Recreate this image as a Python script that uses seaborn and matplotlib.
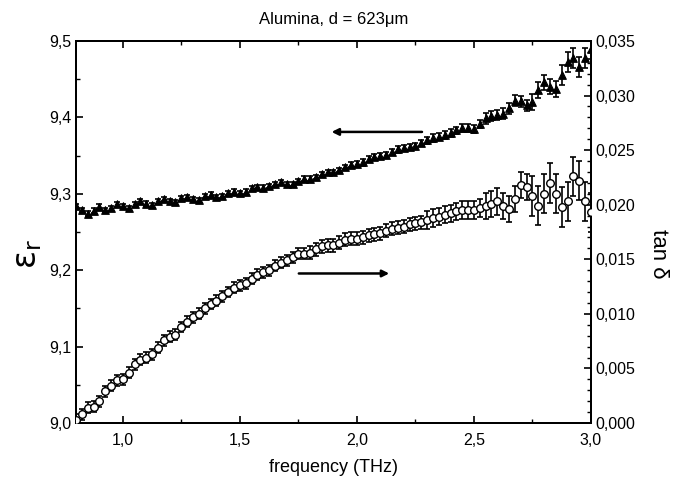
import numpy as np
import pandas as pd
import matplotlib
matplotlib.use("Agg")
import matplotlib.pyplot as plt
import seaborn as sns
from matplotlib.ticker import MultipleLocator, FuncFormatter

# frequency grid (THz), 0.025 step
freq = np.linspace(0.8, 3.0, 89)

# real part of permittivity (left axis)
eps_r = [9.284, 9.279, 9.274, 9.278, 9.283, 9.279, 9.281, 9.286, 9.284, 9.281,
         9.286, 9.290, 9.287, 9.285, 9.290, 9.293, 9.290, 9.289, 9.294, 9.296,
         9.293, 9.292, 9.297, 9.299, 9.296, 9.297, 9.301, 9.303, 9.301, 9.303,
         9.307, 9.309, 9.308, 9.310, 9.313, 9.315, 9.313, 9.313, 9.317, 9.320,
         9.320, 9.322, 9.326, 9.328, 9.328, 9.331, 9.335, 9.338, 9.339, 9.341,
         9.345, 9.348, 9.349, 9.351, 9.355, 9.358, 9.360, 9.361, 9.363, 9.366,
         9.370, 9.373, 9.375, 9.377, 9.380, 9.383, 9.386, 9.386, 9.385, 9.391,
         9.399, 9.402, 9.403, 9.405, 9.412, 9.422, 9.421, 9.416, 9.420, 9.436,
         9.446, 9.440, 9.437, 9.455, 9.472, 9.478, 9.466, 9.478, 9.490]
eps_err = [0.003] * 48 + [0.004] * 12 + [0.005] * 10 + [0.007] * 8 + [0.010] * 5 + [0.013] * 6

# loss tangent (right axis)
tan_d = [0.0003, 0.0008, 0.0014, 0.0015, 0.0020, 0.0029, 0.0034, 0.0039, 0.0040, 0.0046,
         0.0054, 0.0058, 0.0060, 0.0063, 0.0069, 0.0076, 0.0079, 0.0081, 0.0088, 0.0093,
         0.0097, 0.0100, 0.0105, 0.0109, 0.0112, 0.0116, 0.0120, 0.0124, 0.0126, 0.0128,
         0.0132, 0.0136, 0.0138, 0.0140, 0.0144, 0.0147, 0.0149, 0.0152, 0.0155, 0.0155,
         0.0156, 0.0159, 0.0162, 0.0163, 0.0163, 0.0165, 0.0168, 0.0169, 0.0169, 0.0170,
         0.0172, 0.0173, 0.0174, 0.0176, 0.0178, 0.0179, 0.0180, 0.0182, 0.0183, 0.0184,
         0.0186, 0.0188, 0.0189, 0.0191, 0.0192, 0.0194, 0.0195, 0.0195, 0.0195, 0.0197,
         0.0199, 0.0201, 0.0203, 0.0199, 0.0196, 0.0205, 0.0218, 0.0216, 0.0208, 0.0199,
         0.0210, 0.0220, 0.0210, 0.0198, 0.0203, 0.0226, 0.0222, 0.0203, 0.0193]
tan_err = [0.0005] * 40 + [0.0006] * 20 + [0.0008] * 10 + [0.0012] * 8 + [0.0018] * 11

df = pd.DataFrame({"freq": freq, "eps": eps_r, "eps_err": eps_err,
                   "tan": tan_d, "tan_err": tan_err})

sns.set_style("ticks")
plt.rcParams['font.family'] = ['Liberation Sans', 'DejaVu Sans']
plt.rcParams['text.color'] = 'black'
plt.rcParams['xtick.color'] = 'black'
plt.rcParams['ytick.color'] = 'black'
plt.rcParams['axes.labelcolor'] = 'black'

fig = plt.figure(figsize=(6.81, 4.79), dpi=100)
ax = fig.add_axes([0.1116, 0.1169, 0.7562, 0.7975])
ax2 = ax.twinx()

# permittivity: filled markers
ax.errorbar(df["freq"], df["eps"], yerr=df["eps_err"], fmt="none",
            ecolor="black", elinewidth=1.2, capsize=2.2, capthick=1.2)
sns.scatterplot(data=df, x="freq", y="eps", ax=ax, marker="^", s=30,
                color="black", edgecolor="black", linewidth=0.8, zorder=3)

# loss tangent: open markers
ax2.errorbar(df["freq"], df["tan"], yerr=df["tan_err"], fmt="none",
             ecolor="black", elinewidth=1.2, capsize=2.2, capthick=1.2)
sns.scatterplot(data=df, x="freq", y="tan", ax=ax2, marker="o", s=30,
                facecolor="white", edgecolor="black", linewidth=1.0, zorder=3)

ax.set_xlim(0.8, 3.0)
ax.set_ylim(9.0, 9.5)
ax2.set_ylim(0.0, 0.035)

comma = lambda fmt: FuncFormatter(lambda v, p: (fmt % v).replace(".", ","))
ax.xaxis.set_major_locator(MultipleLocator(0.5))
ax.xaxis.set_minor_locator(MultipleLocator(0.25))
ax.xaxis.set_major_formatter(comma("%.1f"))
ax.yaxis.set_major_locator(MultipleLocator(0.1))
ax.yaxis.set_minor_locator(MultipleLocator(0.05))
ax.yaxis.set_major_formatter(comma("%.1f"))
ax2.yaxis.set_major_locator(MultipleLocator(0.005))
ax2.yaxis.set_minor_locator(MultipleLocator(0.001))
ax2.yaxis.set_major_formatter(comma("%.3f"))

for a in (ax, ax2):
    a.tick_params(which="major", direction="in", length=5, width=1.2,
                  labelsize=11.5, top=True, colors="black")
    a.tick_params(which="minor", direction="in", length=3, width=1.0, top=True)
    for s in a.spines.values():
        s.set_linewidth(1.4)
        s.set_color("black")
ax.tick_params(axis="y", right=False, which="both")
ax.tick_params(axis="x", pad=7)

ax.set_ylabel("")
ax2.set_ylabel("")
fig.text(0.042, 0.47, r"$\mathrm{\varepsilon}_\mathrm{r}$", fontsize=24, rotation=90,
         ha="center", va="center")
fig.text(0.967, 0.47, "tan δ", fontsize=16, rotation=270,
         ha="center", va="center")
ax.set_xlabel("frequency (THz)", fontsize=13, labelpad=8)
ax.set_title("Alumina, d = 623μm", fontsize=12, pad=12)

# direction arrows
ax.annotate("", xy=(1.88, 9.381), xytext=(2.29, 9.381),
            arrowprops=dict(arrowstyle="-|>", color="black", lw=1.8,
                            mutation_scale=10))
ax2.annotate("", xy=(2.15, 0.0137), xytext=(1.74, 0.0137),
             arrowprops=dict(arrowstyle="-|>", color="black", lw=1.8,
                             mutation_scale=10))

fig.savefig("out.png", dpi=100)
